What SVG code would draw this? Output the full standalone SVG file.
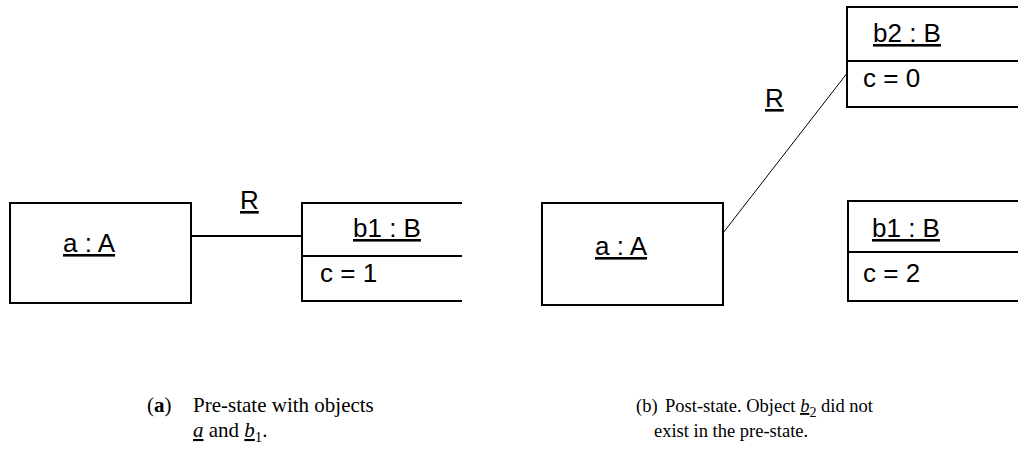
<svg xmlns="http://www.w3.org/2000/svg" width="1018" height="456" viewBox="0 0 1018 456">
<style>
.box{fill:#fff;stroke:#000;stroke-width:2}
.div{stroke:#000;stroke-width:2;fill:none}
.t{font-family:"Liberation Sans",Arial,sans-serif;font-size:26px;fill:#000}
.u{text-decoration:underline}
.cap{font-family:"Liberation Serif","Times New Roman",serif;fill:#000}
.ca{font-size:21px}
.cb{font-size:18.5px}
</style>
<rect width="1018" height="456" fill="#fff"/>
<g id="connectors">
<line x1="191" y1="236" x2="302" y2="236" stroke="#000" stroke-width="2"/>
<line x1="723" y1="233" x2="848" y2="72" stroke="#000" stroke-width="1"/>
<text class="t u" x="240" y="209">R</text>
<text class="t u" x="765" y="107">R</text>
</g>
<g id="a_left">
<rect class="box" x="10" y="203" width="181" height="100"/>
<text class="t u" x="63" y="252">a : A</text>
</g>
<g id="b1_left">
<path class="div" d="M462,203 H302 V301 H462 M302,256 H462"/>
<text class="t u" x="353" y="237">b1 : B</text>
<text class="t" x="320" y="282">c = 1</text>
</g>
<g id="a_right">
<rect class="box" x="542" y="203" width="181" height="102"/>
<text class="t u" x="595" y="255">a : A</text>
</g>
<g id="b2">
<rect class="box" x="847" y="7" width="200" height="100"/>
<line class="div" x1="847" y1="61" x2="1018" y2="61"/>
<text class="t u" x="873" y="42">b2 : B</text>
<text class="t" x="863" y="87">c = 0</text>
</g>
<g id="b1_right">
<rect class="box" x="848" y="201" width="200" height="100"/>
<line class="div" x1="848" y1="252" x2="1018" y2="252"/>
<text class="t u" x="872" y="237">b1 : B</text>
<text class="t" x="863" y="282">c = 2</text>
</g>
<g id="caption_a">
<text class="cap ca" x="147" y="412">(<tspan font-weight="bold">a</tspan>)</text>
<text class="cap ca" x="193" y="412">Pre-state with objects</text>
<text class="cap ca" x="193" y="437"><tspan font-style="italic" class="u">a</tspan> and <tspan font-style="italic" class="u">b</tspan><tspan font-size="15" dy="5">1</tspan><tspan dy="-5">.</tspan></text>
</g>
<g id="caption_b">
<text class="cap cb" x="636" y="412">(b)</text>
<text class="cap cb" x="665" y="412">Post-state. Object <tspan font-style="italic" class="u">b</tspan><tspan font-size="14" dy="5">2</tspan><tspan dy="-5"> did not</tspan></text>
<text class="cap cb" x="654" y="437">exist in the pre-state.</text>
</g>
</svg>
